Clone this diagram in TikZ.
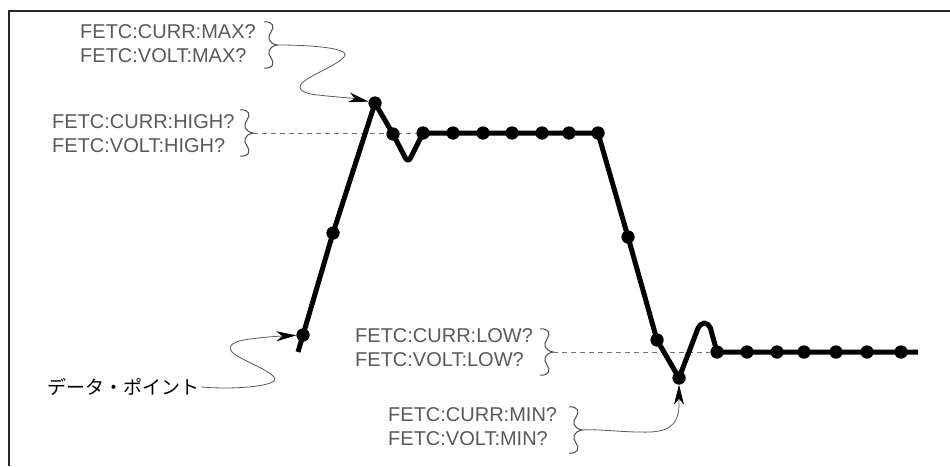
\documentclass[tikz,border=0pt]{standalone}
\usepackage{fontspec}
\setmainfont{Liberation Sans}
\newfontfamily\jpfont{Noto Sans CJK JP}
\usetikzlibrary{arrows.meta}
\begin{document}
\begin{tikzpicture}[x=1pt,y=-1pt,
  frame/.style={line width=1.8pt, draw=black!85},
  wave/.style={line width=5pt, rounded corners=5pt, line join=round, line cap=butt},
  dot/.style={circle, fill=black, inner sep=0pt, minimum size=13pt},
  lbl/.style={anchor=west, align=left, text=black!65, font=\fontsize{20}{24}\selectfont, inner sep=0pt},
  conn/.style={draw=black!65, line width=0.8pt, -{Stealth[length=20pt,width=10pt,inset=6pt,black]}},
  guide/.style={draw=black!55, line width=0.8pt, dash pattern=on 5pt off 4pt},
  bracepath/.style={draw=black!70, line width=1pt},
  rbrace/.pic={
    \coordinate (-tip) at (0,0);
    \draw[bracepath] (-13,-23) .. controls (-4,-24) and (-2,-18) .. (-6,-13)
      .. controls (-10,-8) and (-9,-2) .. (0,0)
      .. controls (-9,2) and (-10,8) .. (-6,13)
      .. controls (-2,18) and (-4,24) .. (-13,23);
  }
]
\useasboundingbox (0,0) rectangle (950,466);
% frame
\draw[frame] (950,11) -- (9,11) -- (9,466);

% waveform points
\coordinate (d0) at (298,352);
\node[dot] (d1) at (303,335) {};
\node[dot] (d2) at (333,233) {};
\node[dot] (pk) at (375,103) {};
\node[dot] (d3) at (393,134) {};
\coordinate (dip) at (408,163);
\node[dot] (h1) at (423,133) {};
\node[dot] (h2) at (453,133) {};
\node[dot] (h3) at (483,133) {};
\node[dot] (h4) at (512,133) {};
\node[dot] (h5) at (542,133) {};
\node[dot] (h6) at (569,133) {};
\node[dot] (h7) at (598,133) {};
\node[dot] (d4) at (628,237) {};
\node[dot] (d5) at (657,340) {};
\node[dot] (mn) at (679,378) {};
\coordinate (ov1) at (700,323);
\coordinate (ov2) at (709,323);
\node[dot] (l1) at (717,352) {};
\node[dot] (l2) at (747,352) {};
\node[dot] (l3) at (777,352) {};
\node[dot] (l4) at (804,352) {};
\node[dot] (l5) at (836,352) {};
\node[dot] (l6) at (867,352) {};
\node[dot] (l7) at (901,352) {};
\coordinate (wend) at (918,352);

% braces
\pic (bmax) at (277,45) {rbrace};
\pic (bhigh) at (253,133) {rbrace};
\pic (blow) at (553,352) {rbrace};
\pic (bmin) at (582,430) {rbrace};

% labels
\node[lbl] (tmax) at (80,44) {FETC:CURR:MAX?\\FETC:VOLT:MAX?};
\node[lbl] (thigh) at (52,134) {FETC:CURR:HIGH?\\FETC:VOLT:HIGH?};
\node[lbl] (tlow) at (355,348) {FETC:CURR:LOW?\\FETC:VOLT:LOW?};
\node[lbl] (tmin) at (388,427) {FETC:CURR:MIN?\\FETC:VOLT:MIN?};
\node[anchor=west, inner sep=2pt, font=\jpfont\fontsize{19}{22}\selectfont] (dp) at (45,387) {データ・ポイント};

% dashed guides
\draw[guide] (bhigh-tip) -- (h1);
\draw[guide] (blow-tip) -- (l1);

% waveform
\draw[wave] (d0) -- (d1.center) -- (d2.center) -- (pk.center) -- (d3.center) -- (dip)
  -- (h1.center) -- (h7.center) -- (d4.center) -- (d5.center) -- (mn.center)
  -- (ov1) -- (ov2) -- (l1.center) -- (wend);
\foreach \n in {d1,d2,pk,d3,h1,h2,h3,h4,h5,h6,h7,d4,d5,mn,l1,l2,l3,l4,l5,l6,l7}
  \fill (\n) circle (6.5pt);

% connectors
\draw[conn] (bmax-tip) .. controls (318,45) and (352,49) .. (344,57)
  .. controls (336,66) and (312,74) .. (302,83)
  .. controls (296,89) and (304,94) .. (318,95)
  .. controls (335,97) and (352,98) .. (pk);
\draw[conn] (dp.east) .. controls (235,390) and (282,386) .. (274,377)
  .. controls (266,368) and (240,360) .. (232,352)
  .. controls (226,345) and (235,341) .. (250,339)
  .. controls (265,337) and (282,336) .. (d1);
\draw[conn] (bmin-tip) .. controls (600,429) and (620,432) .. (640,432)
  .. controls (665,433) and (678,428) .. (679,406) -- (mn);
\end{tikzpicture}
\end{document}
